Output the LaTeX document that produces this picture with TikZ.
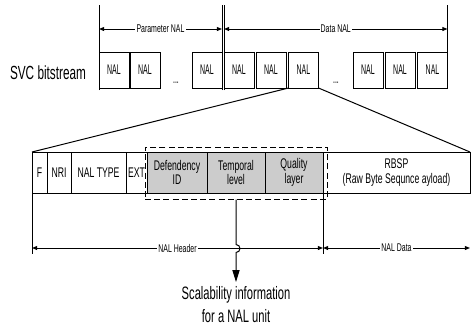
\documentclass[tikz,border=0pt]{standalone}
\usepackage{fontspec}
\setmainfont[FakeStretch=0.62]{Liberation Sans}
\newfontfamily\nalfont[FakeStretch=0.5]{Liberation Sans}
\usetikzlibrary{arrows.meta,positioning,calc}

\begin{document}
\begin{tikzpicture}[x=0.5pt,y=-0.5pt,line width=0.5pt,
  >={Triangle[length=2.6pt,width=2pt]},
  nal/.style={draw,outer sep=0pt,inner sep=0pt,minimum width=15pt,minimum height=18pt,font=\nalfont\fontsize{7}{8}\selectfont},
  fld/.style={draw,outer sep=0pt,inner sep=0pt,minimum height=20.5pt,align=center,font=\fontsize{7}{7.2}\selectfont},
  scal/.style={fld,fill=black!20},
  dim/.style={fill=white,inner sep=0.6pt,font=\fontsize{5.6}{6}\selectfont}]
  \useasboundingbox (0,0) rectangle (471,328);
  \coordinate (top) at (0,5);
  \coordinate (low) at (0,90);
  \coordinate (dimy) at (0,29);
  \coordinate (hdry) at (0,248);
  \coordinate (lowb) at (0,254);

  % the bitstream of NAL units
  \node[font=\fontsize{9.5}{10}\selectfont] (svc) at (48,73) {SVC bitstream};
  \foreach \n/\x in {1/114,2/145,3/207,4/239,5/271,6/303.5,7/368,8/400,9/432.5}
    \node[nal] (n\n) at (\x,70) {NAL};
  \node[anchor=base,font=\nalfont\fontsize{7}{8}\selectfont] (dotsa) at (176,83) {...};
  \node[anchor=base,font=\nalfont\fontsize{7}{8}\selectfont] (dotsb) at (336,83) {...};

  \draw (n1.west |- low) -- (n1.west |- top);
  \draw (n3.east |- low) -- (n3.east |- top);
  \draw (n4.west |- low) -- (n4.west |- top);
  \draw (n9.north east) -- (n9.east |- top);
  \draw[<->] (n1.west |- dimy) -- (n3.east |- dimy) node[midway,dim] (parlab) {Parameter NAL};
  \draw[<->] (n4.west |- dimy) -- (n9.east |- dimy) node[midway,dim] (datlab) {Data NAL};

  % fields of one NAL unit
  \node[fld,minimum width=7.5pt] (fF) at (39.5,172.5) {F};
  \node[fld,minimum width=12pt,right=0pt of fF] (fNri) {NRI};
  \node[fld,minimum width=27.5pt,right=0pt of fNri] (fType) {NAL TYPE};
  \node[fld,minimum width=10.5pt,right=0pt of fType] (fExt) {EXT};
  \node[scal,minimum width=30pt,right=0pt of fExt] (fDid) {Defendency\\ID};
  \node[scal,minimum width=29pt,right=0pt of fDid] (fTl) {Temporal\\level};
  \node[scal,minimum width=29pt,right=0pt of fTl] (fQl) {Quality\\layer};
  \node[fld,minimum width=73.5pt,right=0pt of fQl] (fRbsp) {RBSP\\(Raw Byte Sequnce ayload)};
  \node[draw,dash pattern=on 3pt off 1.6pt,minimum width=91pt,minimum height=26pt,inner sep=0pt] (scalbox) at (236,173) {};

  \draw (n6.south west) -- (fF.north west);
  \draw (n6.south east) -- (fRbsp.north east);

  \draw (fF.south west) -- (fF.west |- lowb);
  \draw (fRbsp.south west) -- (fRbsp.west |- lowb);
  \draw[<->] (fF.west |- hdry) -- (fRbsp.west |- hdry) node[midway,dim] (hdrlab) {NAL Header};
  \draw[<->] (fRbsp.west |- hdry) -- (fRbsp.east |- hdry) node[midway,dim] (pldlab) {NAL Data};

  \node[anchor=north,align=center,inner sep=2pt,font=\fontsize{9}{11.5}\selectfont] (info) at (236,282) {Scalability information\\for a NAL unit};
  \draw[-{Triangle[length=6pt,width=3.6pt]}] (scalbox.south) -- ++(0,45) arc[start angle=-90,end angle=90,radius=4] -- (info.north);
\end{tikzpicture}
\end{document}
